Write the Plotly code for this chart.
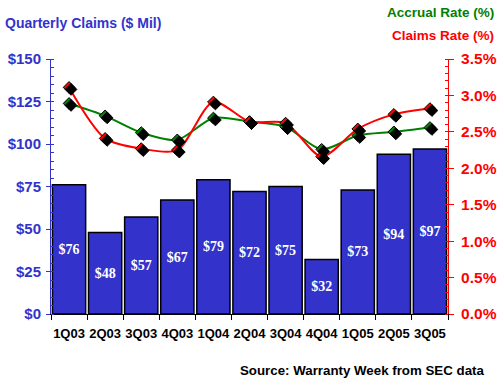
import plotly.graph_objects as go

quarters = ["1Q03", "2Q03", "3Q03", "4Q03", "1Q04", "2Q04", "3Q04", "4Q04", "1Q05", "2Q05", "3Q05"]
claims = [76, 48, 57, 67, 79, 72, 75, 32, 73, 94, 97]
claims_rate = [3.11, 2.41, 2.27, 2.25, 2.91, 2.64, 2.62, 2.16, 2.54, 2.74, 2.82]
accrual_rate = [2.89, 2.72, 2.49, 2.39, 2.69, 2.64, 2.57, 2.26, 2.45, 2.50, 2.56]

BLUE = "#3333CC"
RED = "#FF0000"
GREEN = "#008000"
FONT = "Liberation Sans"
MSIZE = 9

fig = go.Figure()

fig.add_trace(go.Bar(
    x=quarters, y=claims,
    marker=dict(color=BLUE, line=dict(color="black", width=1.5)),
    text=["$%d" % v for v in claims],
    textposition="inside", insidetextanchor="middle",
    textfont=dict(family="Liberation Serif", size=14, color="white", weight="bold"),
    textangle=0,
    yaxis="y", xaxis="x",
))

# shadows (drawn on shifted overlay axes)
for vals in (accrual_rate, claims_rate):
    fig.add_trace(go.Scatter(
        x=quarters, y=vals, mode="markers",
        marker=dict(symbol="diamond", size=MSIZE, color="black",
                    line=dict(color="black", width=1)),
        xaxis="x3", yaxis="y3", hoverinfo="skip",
    ))

fig.add_trace(go.Scatter(
    x=quarters, y=accrual_rate, mode="lines+markers",
    line=dict(color=GREEN, width=2, shape="spline", smoothing=0.8),
    marker=dict(symbol="diamond", size=MSIZE, color=GREEN, line=dict(color="black", width=1)),
    yaxis="y2", xaxis="x",
))
fig.add_trace(go.Scatter(
    x=quarters, y=claims_rate, mode="lines+markers",
    line=dict(color=RED, width=2, shape="spline", smoothing=0.8),
    marker=dict(symbol="diamond", size=MSIZE, color=RED, line=dict(color="black", width=1)),
    yaxis="y2", xaxis="x",
))

dx = 2.0 / 36.1
dy = 2.0 / 72.86

fig.update_layout(
    width=500, height=380,
    margin=dict(l=51, r=52, t=59, b=66),
    paper_bgcolor="white", plot_bgcolor="white",
    showlegend=False,
    bargap=0.08,
    font=dict(family=FONT),
    xaxis=dict(
        type="category", range=[-0.5, 10.5], automargin=False,
        showline=True, linecolor="black", linewidth=1,
        ticks="outside", tickson="boundaries", ticklen=5, tickcolor="black",
        tickangle=0, ticklabelstandoff=7,
        tickfont=dict(family=FONT, size=13, color="black", weight="bold"),
        showgrid=False, zeroline=False,
    ),
    xaxis3=dict(
        type="category", overlaying="x", range=[-0.5 - dx, 10.5 - dx],
        visible=False, showgrid=False, automargin=False,
    ),
    yaxis=dict(
        range=[0, 150], dtick=25, tickprefix="$", automargin=False,
        showline=True, linecolor=BLUE, linewidth=1,
        ticks="outside", ticklen=4, tickcolor=BLUE, ticklabelstandoff=2,
        minor=dict(dtick=5, ticks="inside", ticklen=3, tickcolor=BLUE),
        tickfont=dict(family=FONT, size=15, color=BLUE, weight="bold"),
        showgrid=False, zeroline=False,
    ),
    yaxis2=dict(
        range=[0, 3.5], dtick=0.5, tickformat=".1f", ticksuffix="%",
        overlaying="y", side="right", automargin=False,
        showline=True, linecolor=RED, linewidth=1,
        ticks="outside", ticklen=5, tickcolor=RED, ticklabelstandoff=4,
        minor=dict(dtick=0.1, ticks="inside", ticklen=3, tickcolor=RED),
        tickfont=dict(family=FONT, size=15.5, color=RED, weight="bold"),
        showgrid=False, zeroline=False,
    ),
    yaxis3=dict(
        range=[dy, 3.5 + dy], overlaying="y", visible=False, showgrid=False,
        automargin=False,
    ),
    annotations=[
        dict(text="<b>Quarterly Claims ($ Mil)</b>", xref="paper", yref="paper",
             x=-0.121, y=1.141, xanchor="left", yanchor="middle", showarrow=False,
             font=dict(family=FONT, size=14, color=BLUE)),
        dict(text="<b>Accrual Rate (%)</b>", xref="paper", yref="paper",
             x=1.121, y=1.184, xanchor="right", yanchor="middle", showarrow=False,
             font=dict(family=FONT, size=13.5, color=GREEN)),
        dict(text="<b>Claims Rate (%)</b>", xref="paper", yref="paper",
             x=1.121, y=1.094, xanchor="right", yanchor="middle", showarrow=False,
             font=dict(family=FONT, size=13.5, color=RED)),
        dict(text="<b>Source: Warranty Week from SEC data</b>", xref="paper", yref="paper",
             x=1.096, y=-0.22, xanchor="right", yanchor="middle", showarrow=False,
             font=dict(family=FONT, size=13.3, color="black")),
    ],
)

fig.write_html("out.html", post_script="document.body.style.margin='0';",
               config={"displayModeBar": False})
